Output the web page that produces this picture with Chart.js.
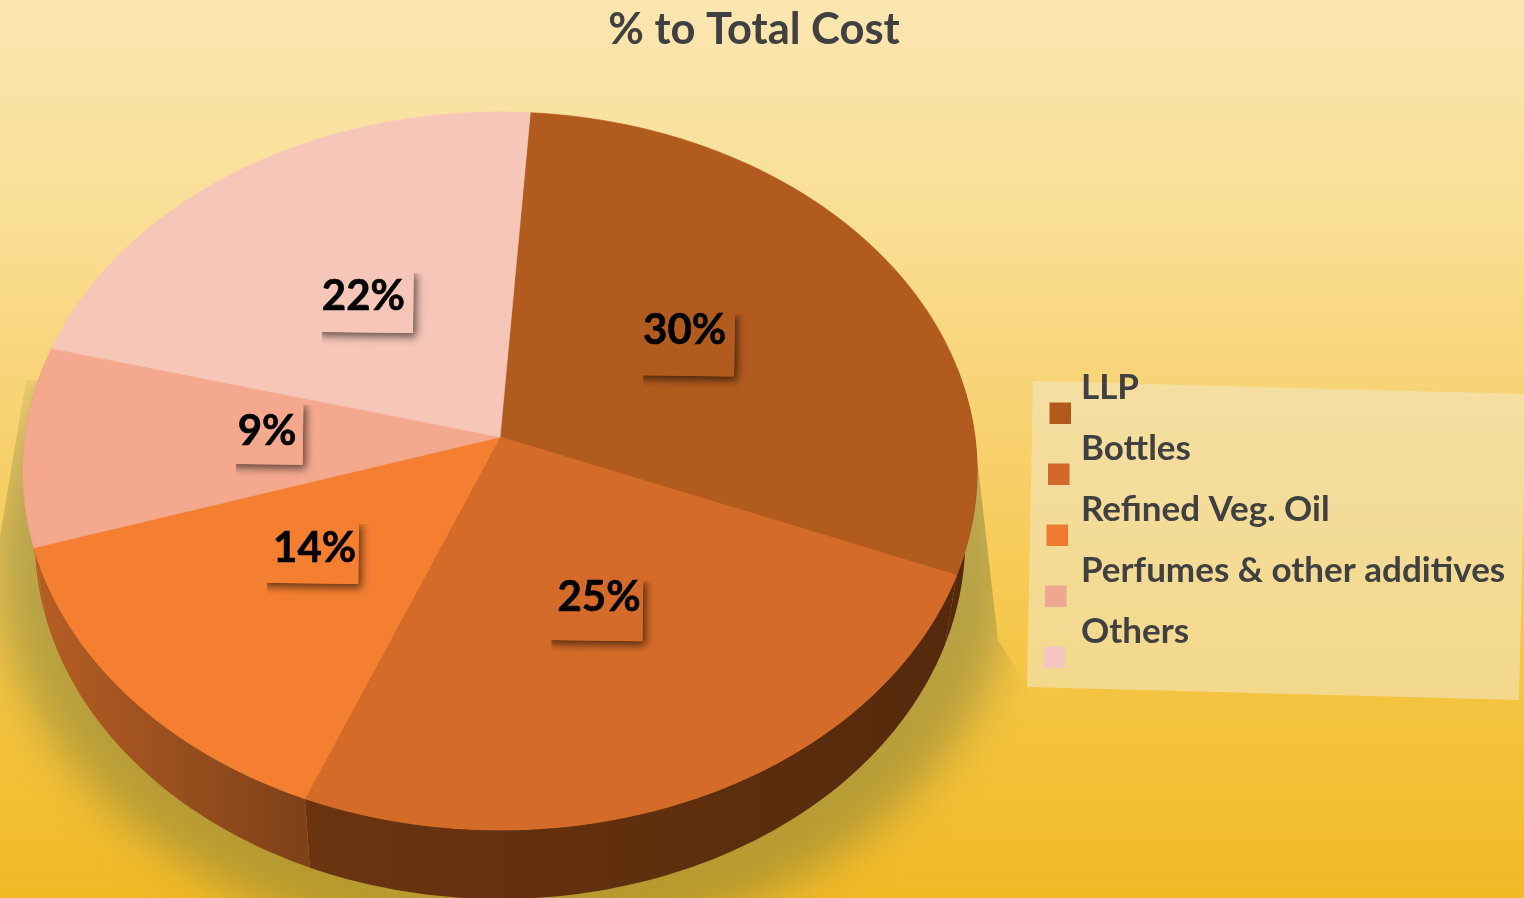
<!DOCTYPE html>
<html>
<head>
<meta charset="utf-8">
<title>% to Total Cost</title>
<script src="https://cdn.jsdelivr.net/npm/chart.js@4"></script>
<style>
  html, body { margin: 0; padding: 0; }
  canvas { display: block; }
</style>
</head>
<body>
<canvas id="costChart" width="1524" height="898"></canvas>
<script>
// Cost breakdown
const categories = ['LLP', 'Bottles', 'Refined Veg. Oil', 'Perfumes & other additives', 'Others'];
const costShares = [30, 25, 14, 9, 22];
const sliceColors = ['#B25B1E', '#D56B28', '#F57F31', '#F4A98F', '#F6C6B8'];
const legendColors = ['#B3591C', '#D2692A', '#EE7B31', '#F0A792', '#F6C6C0'];
// side wall colours, start and end of each slice's rim
const wallColors = [
    ['#552A0C', '#552A0C'],
    ['#552A0C', '#6B3410'],
    ['#7F4118', '#B65E24'],
    ['#B65E24', '#B65E24'],
    ['#552A0C', '#552A0C']
];

const titleText = '% to Total Cost';
const fontFamily = 'Lato, sans-serif';

// Perspective of the pie top: unit circle -> canvas
const persp = { cx: 500, cy: 437, rx: 475, ry: 314.4, k: -0.0947 };
function project(x, y) {
    const w = 1 + persp.k * y;
    return { x: persp.cx + persp.rx * x / w, y: (persp.ry * y + persp.cy) / w };
}
// Same rim point on the bottom face of the pie
function lowered(p) {
    return { x: 500 + (p.x - 500) * 0.975, y: p.y + 69 };
}
function rimPoints(start, end) {
    const steps = Math.max(2, Math.ceil((end - start) / 0.02));
    const pts = [];
    for (let i = 0; i <= steps; i++) {
        const a = start + (end - start) * i / steps;
        pts.push(project(Math.cos(a), Math.sin(a)));
    }
    return pts;
}

// Arcs follow the perspective instead of a flat circle
Chart.ArcElement.prototype.draw = function(ctx) {
    const color = this.options.backgroundColor;
    const apex = project(0, 0);
    ctx.save();
    ctx.beginPath();
    ctx.moveTo(apex.x, apex.y);
    rimPoints(this.startAngle, this.endAngle).forEach(p => ctx.lineTo(p.x, p.y));
    ctx.closePath();
    ctx.fillStyle = color;
    ctx.strokeStyle = color;
    ctx.lineWidth = 0.7;
    ctx.fill();
    ctx.stroke();
    ctx.restore();
};

function drawBackground(ctx, w, h) {
    const bg = ctx.createLinearGradient(0, 0, 0, h);
    bg.addColorStop(0, '#FBE6B1');
    bg.addColorStop(0.25, '#F9DE94');
    bg.addColorStop(0.45, '#F8D374');
    bg.addColorStop(0.75, '#F4C544');
    bg.addColorStop(1, '#F2B926');
    ctx.fillStyle = bg;
    ctx.fillRect(0, 0, w, h);
}

function drawDropShadow(ctx) {
    ctx.save();
    ctx.beginPath();
    ctx.moveTo(26, 380);
    ctx.lineTo(975, 440);
    ctx.lineTo(998, 640);
    ctx.lineTo(1100, 800);
    ctx.lineTo(1200, 900);
    ctx.lineTo(-100, 900);
    ctx.lineTo(-4, 560);
    ctx.closePath();
    ctx.clip();
    ctx.filter = 'blur(22px)';
    ctx.fillStyle = 'rgba(110, 115, 55, 0.45)';
    ctx.beginPath();
    ctx.ellipse(505, 555, 510, 396, 0, 0, Math.PI * 2);
    ctx.fill();
    ctx.restore();
}

function drawWalls(ctx, arcs) {
    arcs.forEach((arc, i) => {
        // the back of the rim is hidden by the top face
        const start = Math.max(arc.startAngle, -0.2);
        const end = Math.min(arc.endAngle, Math.PI + 0.2);
        if (start >= end) return;
        const rim = rimPoints(start, end);
        const first = rim[0], last = rim[rim.length - 1];
        const fill = ctx.createLinearGradient(first.x, 0, last.x + 0.01, 0);
        fill.addColorStop(0, wallColors[i][0]);
        fill.addColorStop(1, wallColors[i][1]);
        ctx.beginPath();
        rim.forEach((p, n) => n ? ctx.lineTo(p.x, p.y) : ctx.moveTo(p.x, p.y));
        rim.slice().reverse().forEach(p => {
            const q = lowered(p);
            ctx.lineTo(q.x, q.y);
        });
        ctx.closePath();
        ctx.fillStyle = fill;
        ctx.fill();
    });
}

// [right, top, bottom] of each label's raised box, relative to the text centre
const labelBoxes = [[50, -18, 47], [44, -18, 45], [44, -26, 37], [36, -28, 35], [50, -25, 38]];
const labelNudges = [[-8, -18], [4, -9], [-9, -13], [0, -12], [-6, -6]];
const labelRadius = 0.49;

function drawValueLabels(ctx, arcs) {
    ctx.font = 'bold 42px ' + fontFamily;
    ctx.textAlign = 'center';
    ctx.textBaseline = 'middle';
    arcs.forEach((arc, i) => {
        const mid = (arc.startAngle + arc.endAngle) / 2;
        const pos = project(labelRadius * Math.cos(mid), labelRadius * Math.sin(mid));
        pos.x += labelNudges[i][0];
        pos.y += labelNudges[i][1];
        const text = costShares[i] + '%';
        const box = labelBoxes[i];
        const width = ctx.measureText(text).width + 14;
        const left = pos.x + box[0] - width;
        const height = box[2] - box[1];

        // raised box: shadow only falls to the right and below
        ctx.save();
        ctx.translate(left + width / 2, pos.y);
        ctx.rotate(0.012);
        ctx.save();
        ctx.beginPath();
        ctx.rect(-width / 2 + 6, box[1] + 3, width + 40, height + 40);
        ctx.clip();
        ctx.shadowColor = 'rgba(0, 0, 0, 0.6)';
        ctx.shadowBlur = 8;
        ctx.shadowOffsetX = 3;
        ctx.shadowOffsetY = 4;
        ctx.fillStyle = sliceColors[i];
        ctx.fillRect(-width / 2, box[1], width, height);
        ctx.restore();
        ctx.fillStyle = sliceColors[i];
        ctx.fillRect(-width / 2, box[1], width, height);
        ctx.restore();

        ctx.fillStyle = '#000000';
        ctx.strokeStyle = '#000000';
        ctx.lineWidth = 0.6;
        ctx.fillText(text, pos.x, pos.y + 2);
        ctx.strokeText(text, pos.x, pos.y + 2);
    });
}

function drawLegend(ctx) {
    ctx.save();
    ctx.beginPath();
    ctx.moveTo(1033, 381);
    ctx.lineTo(1526, 394);
    ctx.lineTo(1519, 700);
    ctx.lineTo(1027, 687);
    ctx.closePath();
    ctx.fillStyle = 'rgba(242, 230, 190, 0.6)';
    ctx.fill();
    ctx.font = 'bold 35px ' + fontFamily;
    ctx.textAlign = 'left';
    ctx.textBaseline = 'alphabetic';
    categories.forEach((name, i) => {
        ctx.fillStyle = legendColors[i];
        ctx.fillRect(1049.5 - 1.5 * i, 402.5 + 61 * i, 21.5, 21.5);
        ctx.fillStyle = '#404040';
        ctx.fillText(name, 1081, 399 + 61 * i);
    });
    ctx.restore();
}

const scenePlugin = {
    id: 'scene',
    beforeDraw(chart) {
        drawBackground(chart.ctx, chart.width, chart.height);
        drawDropShadow(chart.ctx);
    },
    beforeDatasetsDraw(chart) {
        drawWalls(chart.ctx, chart.getDatasetMeta(0).data);
    },
    afterDatasetsDraw(chart) {
        drawValueLabels(chart.ctx, chart.getDatasetMeta(0).data);
        drawLegend(chart.ctx);
    }
};

new Chart(document.getElementById('costChart').getContext('2d'), {
    type: 'pie',
    data: {
        labels: categories,
        datasets: [{
            data: costShares,
            backgroundColor: sliceColors,
            borderWidth: 0
        }]
    },
    options: {
        responsive: false,
        animation: false,
        devicePixelRatio: 1,
        rotation: 4,
        events: [],
        layout: { padding: { right: 16 } },
        plugins: {
            legend: { display: false },
            tooltip: { enabled: false },
            title: {
                display: true,
                text: titleText,
                color: '#404040',
                font: { family: fontFamily, size: 43.5, weight: 'bold' },
                padding: { top: 4, bottom: 10 }
            }
        }
    },
    plugins: [scenePlugin]
});
</script>
</body>
</html>
